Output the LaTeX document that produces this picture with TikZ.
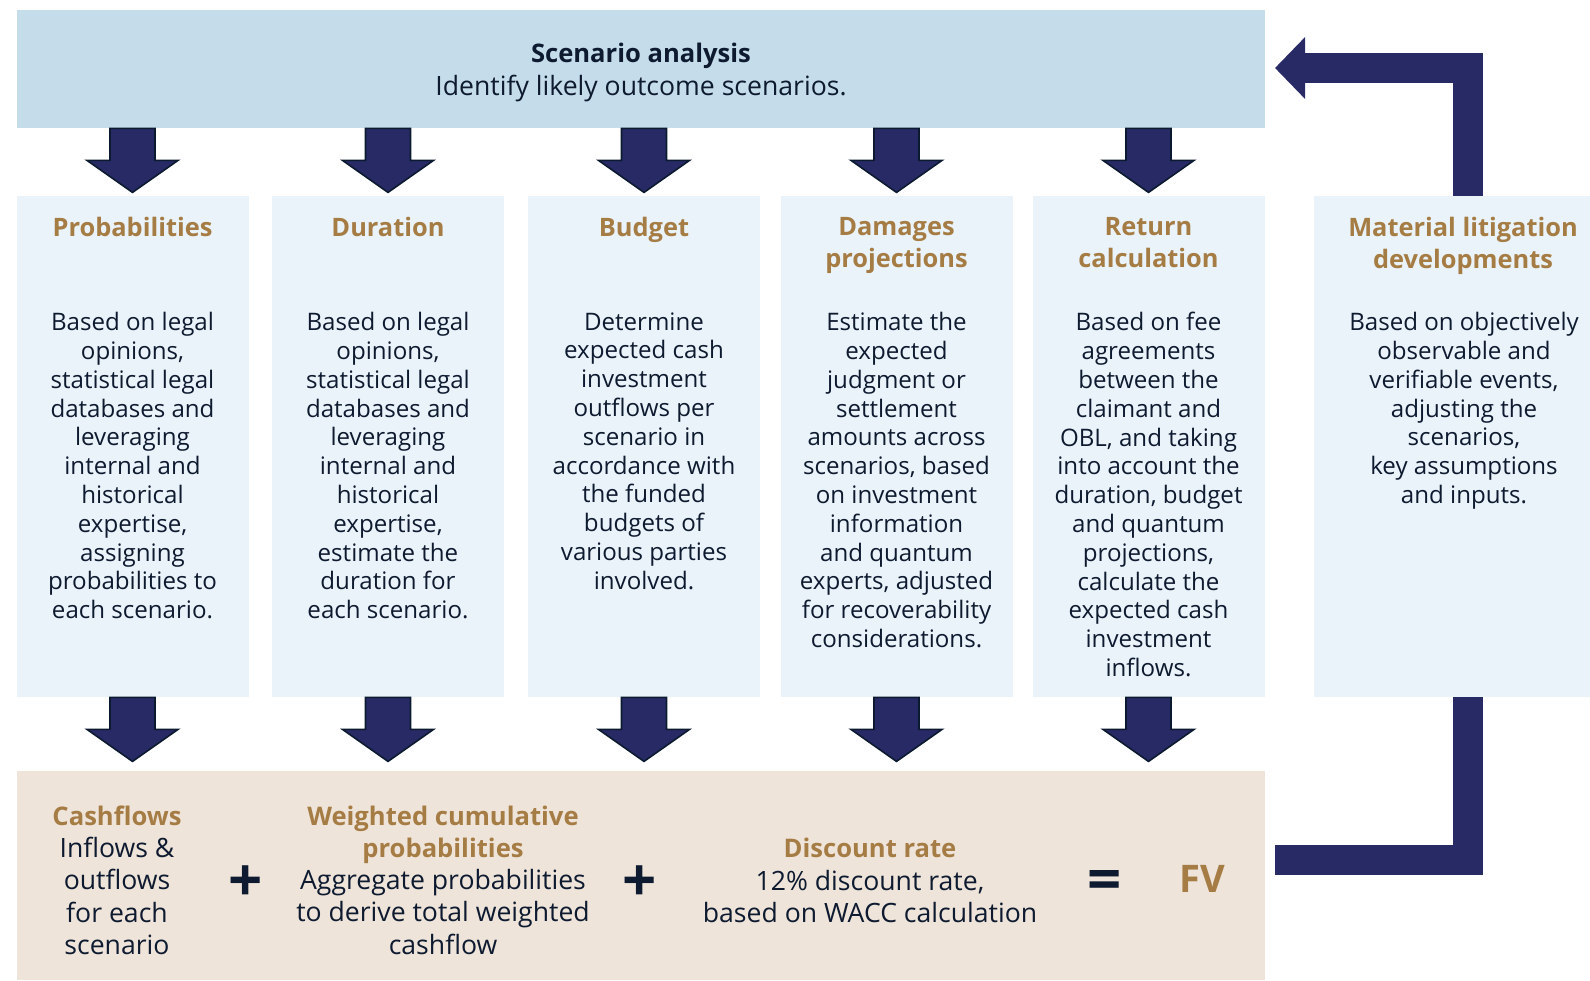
\documentclass[tikz,border=0pt]{standalone}
\usepackage{fontspec}
\setmainfont{Open Sans}
\usetikzlibrary{arrows.meta}

\definecolor{topblue}{HTML}{C5DDEA}
\definecolor{colblue}{HTML}{EAF3F9}
\definecolor{sand}{HTML}{EEE4D9}
\definecolor{gold}{HTML}{A67C45}
\definecolor{ink}{HTML}{0E1A30}
\definecolor{navy}{HTML}{282A66}
\definecolor{navyline}{HTML}{0B1A2E}

\begin{document}
\begin{tikzpicture}[x=0.5pt,y=-0.5pt,
	colbox/.style={fill=colblue,minimum width=116pt,minimum height=250.5pt,inner sep=0pt},
	coltitle/.style={text=gold,font=\fontsize{12.7}{16.2}\selectfont\bfseries,align=center,anchor=north,inner sep=0pt,execute at begin node=\strut},
	coltext/.style={text=ink,font=\fontsize{12.05}{14.4}\selectfont,align=center,anchor=north,inner sep=0pt,execute at begin node=\strut},
	sumtext/.style={text=ink,font=\fontsize{13.3}{16.1}\selectfont,align=center,anchor=north,inner sep=0pt,execute at begin node=\strut},
	sign/.style={text=ink,font=\fontsize{30}{30}\selectfont\bfseries,inner sep=0pt},
	blockarrow/.style={fill=navy,draw=navyline,line width=0.8pt,line join=miter},
	feedback/.style={draw=navy,line width=15pt}
]
\useasboundingbox (0,0) rectangle (1590,980);
\clip (0,0) rectangle (1590,980);

% top box
\node[fill=topblue,minimum width=624pt,minimum height=59pt,inner sep=0pt] (top) at (641,69) {};
\node[text=ink,font=\fontsize{13.3}{16.2}\selectfont,align=center,inner sep=0pt] (toptext) at (641,72.5) {\textbf{\fontsize{12.8}{16.2}\selectfont Scenario analysis}\\Identify likely outcome scenarios.};

% columns
\node[colbox] (p1) at (132.5,446.5) {};
\node[colbox] (p2) at (388,446.5) {};
\node[colbox] (p3) at (644,446.5) {};
\node[colbox] (p4) at (896.5,446.5) {};
\node[colbox] (p5) at (1148.5,446.5) {};
\node[colbox,minimum width=149pt] (p6) at (1463,446.5) {};

\node[coltitle] (h1) at (132.5,213.5) {Probabilities};
\node[coltitle] (h2) at (388,213.5) {Duration};
\node[coltitle] (h3) at (644,213.5) {Budget};
\node[coltitle] (h4) at (896.5,216.5) {Damages\\projections};
\node[coltitle] (h5) at (1148.5,216.5) {Return\\calculation};
\node[coltitle] (h6) at (1463,216.5) {Material litigation\\developments};

\node[coltext] (t1) at (132.5,312) {Based on legal\\opinions,\\statistical legal\\databases and\\leveraging\\internal and\\historical\\expertise,\\assigning\\probabilities to\\each scenario.};
\node[coltext] (t2) at (388,312) {Based on legal\\opinions,\\statistical legal\\databases and\\leveraging\\internal and\\historical\\expertise,\\estimate the\\duration for\\each scenario.};
\node[coltext] (t3) at (644,312) {Determine\\expected cash\\investment\\outflows per\\scenario in\\accordance with\\the funded\\budgets of\\various parties\\involved.};
\node[coltext] (t4) at (896.5,312) {Estimate the\\expected\\judgment or\\settlement\\amounts across\\scenarios, based\\on investment\\information\\and quantum\\experts, adjusted\\for recoverability\\considerations.};
\node[coltext] (t5) at (1148.5,312) {Based on fee\\agreements\\between the\\claimant and\\OBL, and taking\\into account the\\duration, budget\\and quantum\\projections,\\calculate the\\expected cash\\investment\\inflows.};
\node[coltext] (t6) at (1464,312) {Based on objectively\\observable and\\verifiable events,\\adjusting the\\scenarios,\\key assumptions\\and inputs.};

% bottom box
\node[fill=sand,minimum width=624pt,minimum height=104.5pt,inner sep=0pt] (bot) at (641,875.5) {};

\node[sumtext] (s1) at (117,805.5) {\textcolor{gold}{\textbf{\fontsize{12.8}{16.1}\selectfont Cashflows}}\\Inflows \&\\outflows\\for each\\scenario};
\node[sign] (plus1) at (246,884) {+};
\node[sumtext] (s2) at (443,805.5) {\textcolor{gold}{\textbf{\fontsize{12.8}{16.1}\selectfont Weighted cumulative}}\\\textcolor{gold}{\textbf{\fontsize{12.8}{16.1}\selectfont probabilities}}\\Aggregate probabilities\\to derive total weighted\\cashflow};
\node[sign] (plus2) at (640,884) {+};
\node[sumtext] (s3) at (870,838) {\textcolor{gold}{\textbf{\fontsize{12.8}{16.1}\selectfont Discount rate}}\\12\% discount rate,\\based on WACC calculation};
\node[sign] (eq) at (1105,885) {=};
\node[text=gold,font=\fontsize{19}{19}\selectfont\bfseries,inner sep=0pt] (fv) at (1202,879) {FV};

% arrows
\foreach \i in {1,...,5}{
	\filldraw[blockarrow] (top.south -| p\i.north) ++(-22.5,0) -- ++(45,0) -- ++(0,32) -- ++(23,0) -- ++(-45.5,32) -- ++(-45.5,-32) -- ++(23,0) -- cycle;
	\filldraw[blockarrow] (p\i.south) ++(-22.5,0) -- ++(45,0) -- ++(0,32) -- ++(23,0) -- ++(-45.5,32) -- ++(-45.5,-32) -- ++(23,0) -- cycle;
}

% feedback loop
\coordinate (fbx) at (1468,0);
\coordinate (fbtop) at (1275,68);
\coordinate (fbbot) at (1275,860);
\draw[feedback,-{Triangle[length=15pt,width=30pt]}] (p6.north -| fbx) |- (fbtop);
\draw[feedback] (p6.south -| fbx) |- (fbbot);

\end{tikzpicture}
\end{document}
